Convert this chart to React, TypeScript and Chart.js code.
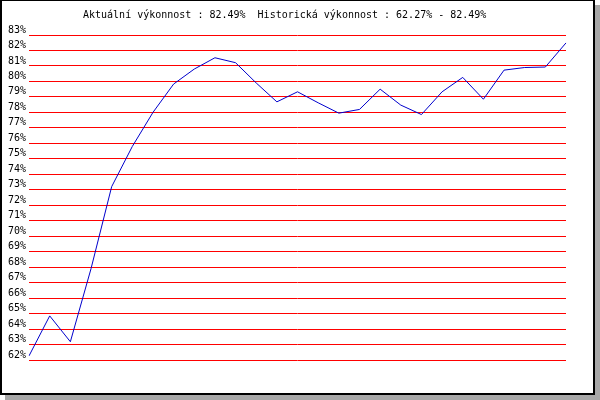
import React, { useEffect, useRef } from "react";
import { Chart, registerables } from "chart.js";

Chart.register(...registerables);

const periods = [
  "1", "2", "3", "4", "5", "6", "7", "8", "9", "10", "11", "12", "13", "14",
  "15", "16", "17", "18", "19", "20", "21", "22", "23", "24", "25", "26", "27",
];

const performance = [
  62.27, 64.85, 63.18, 67.9, 73.2, 75.8, 78.0, 79.83, 80.8, 81.53, 81.21, 79.9,
  78.68, 79.33, 78.62, 77.95, 78.19, 79.5, 78.47, 77.86, 79.33, 80.26, 78.85,
  80.73, 80.9, 80.93, 82.49,
];

const yMin = 62;
const yMax = 83;

const titleText =
  "Aktuální výkonnost : 82.49%  Historická výkonnost : 62.27% - 82.49%";

export default function App() {
  const ref = useRef<HTMLCanvasElement>(null);

  useEffect(() => {
    if (!ref.current) return;
    const titlePlugin = {
      id: "manualTitle",
      afterDraw(chart: any) {
        const ctx = chart.ctx;
        ctx.save();
        ctx.font = '10px "DejaVu Sans Mono"';
        ctx.fillStyle = "#000000";
        ctx.textAlign = "left";
        ctx.textBaseline = "alphabetic";
        ctx.fillText(titleText, 83, 17.5);
        ctx.restore();
      },
    };
    const chart = new Chart(ref.current, {
      type: "line",
      data: {
        labels: periods,
        datasets: [
          {
            data: performance,
            borderColor: "#0000cc",
            borderWidth: 1,
            pointRadius: 0,
            tension: 0,
            fill: false,
          },
        ],
      },
      options: {
        animation: false,
        responsive: false,
        events: [],
        layout: { padding: { left: 5, right: 34, top: 35, bottom: 40 } },
        plugins: {
          legend: { display: false },
          tooltip: { enabled: false },
          title: { display: false },
        },
        scales: {
          x: { display: false, offset: false },
          y: {
            min: yMin,
            max: yMax,
            ticks: {
              stepSize: 1,
              autoSkip: false,
              callback: (v: any) => v + "%",
              color: "#000000",
              font: { family: "DejaVu Sans Mono", size: 10 },
              padding: 3,
              labelOffset: -5,
            },
            grid: { color: "#ff0000", lineWidth: 1, drawTicks: false },
            border: { display: false },
          },
        },
      },
      plugins: [titlePlugin],
    });
    return () => chart.destroy();
  }, []);

  return (
    <div style={{ position: "absolute", left: 0, top: 0, width: 600, height: 400 }}>
      <div
        style={{
          position: "absolute",
          left: 5,
          top: 5,
          width: 595,
          height: 395,
          background: "#a8a8a8",
        }}
      />
      <div
        style={{
          position: "absolute",
          left: 0,
          top: 0,
          width: 595,
          height: 395,
          boxSizing: "border-box",
          background: "#ffffff",
          borderLeft: "2px solid #000",
          borderRight: "2px solid #000",
          borderBottom: "2px solid #000",
          borderTop: "1px solid #000",
        }}
      />
      <canvas
        ref={ref}
        width={600}
        height={400}
        style={{ position: "absolute", left: 0, top: 0, width: 600, height: 400 }}
      />
    </div>
  );
}
